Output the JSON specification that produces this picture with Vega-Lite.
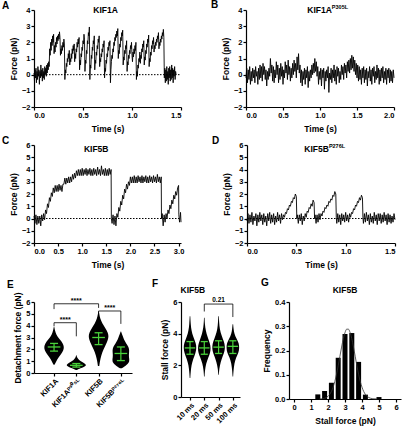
{
"$schema": "https://vega.github.io/schema/vega-lite/v6.json",
"background": "white",
"padding": {"left": 2, "top": 0, "right": 2, "bottom": 2},
"spacing": 8,
"config": {
 "font": "Liberation Sans",
 "view": {"stroke": null},
 "axis": {"grid": false, "domainColor": "black", "domainWidth": 1.2, "tickColor": "black", "tickWidth": 1.2, "tickSize": 3, "labelFontSize": 7.5, "labelFontWeight": "bold", "labelColor": "black", "labelPadding": 1, "titleFontSize": 8.5, "titleFontWeight": "bold", "titleColor": "black", "titlePadding": 3, "labelOverlap": false},
 "axisX": {"titlePadding": 6},
 "title": {"fontSize": 10, "fontWeight": "bold", "anchor": "start", "frame": "group", "color": "black", "offset": -5}
},
"datasets": {
 "a": [{"t":0.00,"f":0.1},{"t":0.005,"f":-0.4},{"t":0.01,"f":0.3},{"t":0.015,"f":-0.2},{"t":0.02,"f":0.4},{"t":0.025,"f":-0.5},{"t":0.03,"f":0.2},{"t":0.035,"f":-0.3},{"t":0.04,"f":0.5},{"t":0.045,"f":-0.1},{"t":0.05,"f":0.3},{"t":0.055,"f":-0.6},{"t":0.06,"f":0.2},{"t":0.065,"f":-0.2},{"t":0.07,"f":0.6},{"t":0.075,"f":-0.1},{"t":0.08,"f":0.3},{"t":0.085,"f":-0.4},{"t":0.09,"f":0.4},{"t":0.095,"f":-0.2},{"t":0.10,"f":0.2},{"t":0.105,"f":-0.3},{"t":0.11,"f":0.5},{"t":0.115,"f":0.0},{"t":0.12,"f":0.4},{"t":0.125,"f":-0.1},{"t":0.13,"f":0.6},{"t":0.135,"f":0.1},{"t":0.14,"f":0.7},{"t":0.145,"f":0.3},{"t":0.15,"f":0.8},
  {"t":0.155,"f":0.5},{"t":0.16,"f":1.6},{"t":0.165,"f":1.2},{"t":0.17,"f":2.0},{"t":0.175,"f":1.5},{"t":0.18,"f":2.2},{"t":0.185,"f":1.8},{"t":0.19,"f":2.4},{"t":0.195,"f":2.0},{"t":0.2,"f":2.5},
  {"t":0.205,"f":1.3},{"t":0.21,"f":1.8},{"t":0.215,"f":1.4},{"t":0.22,"f":2.0},{"t":0.225,"f":1.7},{"t":0.23,"f":2.3},{"t":0.235,"f":1.9},{"t":0.24,"f":2.4},{"t":0.245,"f":2.1},{"t":0.25,"f":2.5},{"t":0.255,"f":2.2},{"t":0.26,"f":2.65},{"t":0.265,"f":2.3},
  {"t":0.27,"f":1.2},{"t":0.275,"f":1.6},{"t":0.28,"f":1.3},{"t":0.285,"f":1.8},{"t":0.29,"f":1.5},{"t":0.295,"f":2.0},{"t":0.30,"f":1.7},{"t":0.305,"f":2.2},{"t":0.31,"f":1.9},
  {"t":0.315,"f":-0.3},{"t":0.32,"f":0.3},{"t":0.325,"f":0.1},{"t":0.33,"f":0.7},{"t":0.335,"f":0.5},{"t":0.34,"f":1.0},{"t":0.345,"f":0.8},{"t":0.35,"f":1.3},{"t":0.355,"f":1.0},{"t":0.36,"f":1.5},
  {"t":0.365,"f":0.6},{"t":0.37,"f":1.0},{"t":0.375,"f":0.8},{"t":0.38,"f":1.3},{"t":0.385,"f":1.0},{"t":0.39,"f":1.6},{"t":0.395,"f":1.3},{"t":0.40,"f":1.8},{"t":0.405,"f":1.5},{"t":0.41,"f":1.9},
  {"t":0.415,"f":0.8},{"t":0.42,"f":1.3},{"t":0.425,"f":1.0},{"t":0.43,"f":1.6},{"t":0.435,"f":1.4},{"t":0.44,"f":2.0},{"t":0.445,"f":1.7},{"t":0.45,"f":2.2},{"t":0.455,"f":1.9},{"t":0.46,"f":2.3},
  {"t":0.465,"f":0.3},{"t":0.47,"f":0.9},{"t":0.475,"f":0.6},{"t":0.48,"f":1.3},{"t":0.485,"f":1.1},{"t":0.49,"f":1.7},{"t":0.495,"f":1.5},{"t":0.50,"f":2.1},{"t":0.505,"f":1.9},{"t":0.51,"f":2.5},{"t":0.515,"f":2.2},
  {"t":0.52,"f":0.2},{"t":0.525,"f":0.9},{"t":0.53,"f":0.7},{"t":0.535,"f":1.5},{"t":0.54,"f":1.3},{"t":0.545,"f":2.1},{"t":0.55,"f":1.9},{"t":0.555,"f":2.6},{"t":0.56,"f":2.4},{"t":0.565,"f":2.95},
  {"t":0.57,"f":-0.3},{"t":0.575,"f":0.6},{"t":0.58,"f":0.4},{"t":0.585,"f":1.2},{"t":0.59,"f":1.0},{"t":0.595,"f":1.7},{"t":0.60,"f":1.5},{"t":0.605,"f":2.1},{"t":0.61,"f":1.9},{"t":0.615,"f":2.4},
  {"t":0.62,"f":0.3},{"t":0.625,"f":0.9},{"t":0.63,"f":0.7},{"t":0.635,"f":1.4},{"t":0.64,"f":1.2},{"t":0.645,"f":1.8},{"t":0.65,"f":1.6},{"t":0.655,"f":2.2},{"t":0.66,"f":2.0},{"t":0.665,"f":2.4},
  {"t":0.67,"f":0.5},{"t":0.675,"f":1.0},{"t":0.68,"f":0.8},{"t":0.685,"f":1.3},{"t":0.69,"f":1.1},{"t":0.695,"f":1.6},{"t":0.70,"f":1.4},{"t":0.705,"f":1.9},{"t":0.71,"f":1.7},{"t":0.715,"f":2.1},
  {"t":0.72,"f":-0.2},{"t":0.725,"f":0.4},{"t":0.73,"f":0.2},{"t":0.735,"f":0.9},{"t":0.74,"f":0.7},{"t":0.745,"f":1.3},{"t":0.75,"f":1.1},{"t":0.755,"f":1.7},{"t":0.76,"f":1.5},{"t":0.765,"f":2.0},{"t":0.77,"f":1.8},{"t":0.775,"f":2.1},
  {"t":0.78,"f":-0.5},{"t":0.785,"f":0.3},{"t":0.79,"f":0.8},{"t":0.795,"f":1.2},{"t":0.80,"f":1.0},{"t":0.805,"f":1.6},{"t":0.81,"f":1.4},{"t":0.815,"f":2.0},{"t":0.82,"f":1.8},{"t":0.825,"f":2.3},{"t":0.83,"f":2.1},{"t":0.835,"f":2.5},{"t":0.84,"f":2.3},{"t":0.845,"f":2.7},{"t":0.85,"f":2.4},{"t":0.855,"f":2.85},
  {"t":0.86,"f":1.0},{"t":0.865,"f":1.5},{"t":0.87,"f":1.3},{"t":0.875,"f":1.9},{"t":0.88,"f":1.7},{"t":0.885,"f":2.3},{"t":0.89,"f":2.1},{"t":0.895,"f":2.6},{"t":0.90,"f":2.4},{"t":0.905,"f":2.75},
  {"t":0.91,"f":0.6},{"t":0.915,"f":1.1},{"t":0.92,"f":0.9},{"t":0.925,"f":1.5},{"t":0.93,"f":1.3},{"t":0.935,"f":1.8},{"t":0.94,"f":1.6},{"t":0.945,"f":2.1},
  {"t":0.95,"f":0.2},{"t":0.955,"f":0.8},{"t":0.96,"f":0.6},{"t":0.965,"f":1.2},{"t":0.97,"f":1.0},{"t":0.975,"f":1.5},{"t":0.98,"f":1.3},{"t":0.985,"f":1.8},{"t":0.99,"f":1.6},{"t":0.995,"f":2.0},
  {"t":1.00,"f":1.2},{"t":1.005,"f":0.8},{"t":1.01,"f":1.4},{"t":1.015,"f":1.1},{"t":1.02,"f":1.6},{"t":1.025,"f":1.3},{"t":1.03,"f":1.8},{"t":1.035,"f":1.5},{"t":1.04,"f":2.0},
  {"t":1.045,"f":-0.3},{"t":1.05,"f":0.2},{"t":1.055,"f":-0.1},{"t":1.06,"f":0.6},{"t":1.065,"f":0.4},{"t":1.07,"f":1.0},{"t":1.075,"f":0.8},{"t":1.08,"f":1.4},
  {"t":1.085,"f":0.7},{"t":1.09,"f":1.2},{"t":1.095,"f":1.0},{"t":1.10,"f":1.6},{"t":1.105,"f":1.4},{"t":1.11,"f":1.9},{"t":1.115,"f":1.7},{"t":1.12,"f":2.1},
  {"t":1.125,"f":0.6},{"t":1.13,"f":1.1},{"t":1.135,"f":0.9},{"t":1.14,"f":1.5},{"t":1.145,"f":1.3},{"t":1.15,"f":1.9},{"t":1.155,"f":1.7},{"t":1.16,"f":2.2},{"t":1.165,"f":2.0},{"t":1.17,"f":2.45},
  {"t":1.175,"f":0.5},{"t":1.18,"f":1.0},{"t":1.185,"f":0.8},{"t":1.19,"f":1.4},{"t":1.195,"f":1.2},{"t":1.20,"f":1.8},{"t":1.205,"f":1.6},{"t":1.21,"f":2.1},{"t":1.215,"f":1.9},{"t":1.22,"f":2.3},
  {"t":1.225,"f":1.4},{"t":1.23,"f":1.8},{"t":1.235,"f":1.6},{"t":1.24,"f":2.0},{"t":1.245,"f":1.8},{"t":1.25,"f":2.2},{"t":1.255,"f":2.0},{"t":1.26,"f":2.4},{"t":1.265,"f":2.2},{"t":1.27,"f":2.6},
  {"t":1.275,"f":1.6},{"t":1.28,"f":2.0},{"t":1.285,"f":1.8},{"t":1.29,"f":2.2},{"t":1.295,"f":2.0},{"t":1.30,"f":2.4},{"t":1.305,"f":2.2},{"t":1.31,"f":2.6},{"t":1.315,"f":2.4},{"t":1.32,"f":2.8},{"t":1.325,"f":2.3},
  {"t":1.33,"f":-0.2},{"t":1.335,"f":0.4},{"t":1.34,"f":-0.5},{"t":1.345,"f":0.3},{"t":1.35,"f":-0.4},{"t":1.355,"f":0.5},{"t":1.36,"f":-0.3},{"t":1.365,"f":0.2},{"t":1.37,"f":-0.6},{"t":1.375,"f":0.4},{"t":1.38,"f":-0.2},{"t":1.385,"f":0.5},{"t":1.39,"f":-0.4},{"t":1.395,"f":0.3},{"t":1.40,"f":-0.3},{"t":1.405,"f":0.6},{"t":1.41,"f":-0.2},{"t":1.415,"f":0.4},{"t":1.42,"f":-0.5},{"t":1.425,"f":0.3},{"t":1.43,"f":-0.1},{"t":1.435,"f":0.5},{"t":1.44,"f":-0.3},{"t":1.445,"f":0.2},{"t":1.45,"f":0.0}],
 "b": [{"t":0.00,"f":-0.2},{"t":0.01,"f":0.4},{"t":0.02,"f":-0.5},{"t":0.03,"f":0.3},{"t":0.04,"f":-0.3},{"t":0.05,"f":0.5},{"t":0.06,"f":-0.6},{"t":0.07,"f":0.2},{"t":0.08,"f":-0.4},{"t":0.09,"f":0.4},{"t":0.10,"f":-0.2},{"t":0.11,"f":0.3},{"t":0.12,"f":-0.5},{"t":0.13,"f":0.5},{"t":0.14,"f":-0.1},{"t":0.15,"f":0.2},{"t":0.16,"f":-0.6},{"t":0.17,"f":0.4},{"t":0.18,"f":-0.3},{"t":0.19,"f":0.6},{"t":0.20,"f":-0.2},{"t":0.21,"f":0.5},{"t":0.22,"f":-0.4},{"t":0.23,"f":0.7},{"t":0.24,"f":0.0},{"t":0.25,"f":0.5},{"t":0.26,"f":-0.3},{"t":0.27,"f":0.3},{"t":0.28,"f":-0.7},{"t":0.29,"f":0.2},{"t":0.30,"f":-0.3},{"t":0.31,"f":0.4},{"t":0.32,"f":-0.1},{"t":0.33,"f":1.0},{"t":0.34,"f":0.1},{"t":0.35,"f":0.6},{"t":0.36,"f":-0.4},{"t":0.37,"f":0.5},{"t":0.38,"f":-0.5},{"t":0.39,"f":0.3},{"t":0.40,"f":-0.2},{"t":0.41,"f":0.8},{"t":0.42,"f":0.0},{"t":0.43,"f":0.6},{"t":0.44,"f":-0.5},{"t":0.45,"f":0.4},{"t":0.46,"f":-0.3},{"t":0.47,"f":0.7},{"t":0.48,"f":-0.1},{"t":0.49,"f":0.5},{"t":0.50,"f":-0.6},{"t":0.51,"f":0.3},{"t":0.52,"f":-0.2},{"t":0.53,"f":0.8},{"t":0.54,"f":0.1},{"t":0.55,"f":0.6},{"t":0.56,"f":-0.3},{"t":0.57,"f":0.9},{"t":0.58,"f":0.0},{"t":0.59,"f":0.5},{"t":0.60,"f":-0.4},{"t":0.61,"f":0.4},{"t":0.62,"f":-0.2},{"t":0.63,"f":0.7},{"t":0.64,"f":0.0},{"t":0.65,"f":0.9},{"t":0.66,"f":0.2},{"t":0.67,"f":0.7},{"t":0.68,"f":-0.2},{"t":0.69,"f":1.1},{"t":0.70,"f":0.3},{"t":0.71,"f":1.3},{"t":0.72,"f":0.1},{"t":0.73,"f":0.6},{"t":0.74,"f":-0.5},{"t":0.75,"f":0.3},{"t":0.76,"f":-0.7},{"t":0.77,"f":0.2},{"t":0.78,"f":-0.3},{"t":0.79,"f":0.4},{"t":0.80,"f":-0.6},{"t":0.81,"f":0.3},{"t":0.82,"f":-0.2},{"t":0.83,"f":0.5},{"t":0.84,"f":-0.8},{"t":0.85,"f":0.2},{"t":0.86,"f":-0.4},{"t":0.87,"f":0.3},{"t":0.88,"f":-0.2},{"t":0.89,"f":0.6},{"t":0.90,"f":0.0},{"t":0.91,"f":0.7},{"t":0.92,"f":0.1},{"t":0.93,"f":1.0},{"t":0.94,"f":0.2},{"t":0.95,"f":0.8},{"t":0.96,"f":-0.1},{"t":0.97,"f":0.5},{"t":0.98,"f":-0.6},{"t":0.99,"f":0.2},{"t":1.00,"f":-0.3},{"t":1.01,"f":0.4},{"t":1.02,"f":-0.7},{"t":1.03,"f":0.3},{"t":1.04,"f":-0.2},{"t":1.05,"f":0.4},{"t":1.06,"f":-0.9},{"t":1.07,"f":0.2},{"t":1.08,"f":-0.4},{"t":1.09,"f":0.3},{"t":1.10,"f":-0.2},{"t":1.11,"f":0.5},{"t":1.12,"f":-1.1},{"t":1.13,"f":0.1},{"t":1.14,"f":-0.3},{"t":1.15,"f":0.4},{"t":1.16,"f":-0.5},{"t":1.17,"f":0.3},{"t":1.18,"f":-0.2},{"t":1.19,"f":0.6},{"t":1.20,"f":-0.4},{"t":1.21,"f":0.3},{"t":1.22,"f":-0.6},{"t":1.23,"f":0.5},{"t":1.24,"f":-0.1},{"t":1.25,"f":0.4},{"t":1.26,"f":-0.5},{"t":1.27,"f":0.2},{"t":1.28,"f":-0.3},{"t":1.29,"f":0.6},{"t":1.30,"f":0.0},{"t":1.31,"f":0.5},{"t":1.32,"f":-0.3},{"t":1.33,"f":0.7},{"t":1.34,"f":0.1},{"t":1.35,"f":0.6},{"t":1.36,"f":-0.2},{"t":1.37,"f":0.8},{"t":1.38,"f":0.2},{"t":1.39,"f":0.9},{"t":1.40,"f":0.1},{"t":1.41,"f":1.0},{"t":1.42,"f":0.3},{"t":1.43,"f":1.2},{"t":1.44,"f":0.4},{"t":1.45,"f":1.1},{"t":1.46,"f":0.2},{"t":1.47,"f":0.9},{"t":1.48,"f":0.0},{"t":1.49,"f":0.7},{"t":1.50,"f":-0.2},{"t":1.51,"f":0.6},{"t":1.52,"f":-0.4},{"t":1.53,"f":0.5},{"t":1.54,"f":-0.3},{"t":1.55,"f":0.3},{"t":1.56,"f":-0.6},{"t":1.57,"f":0.4},{"t":1.58,"f":-0.2},{"t":1.59,"f":0.5},{"t":1.60,"f":-0.5},{"t":1.61,"f":0.3},{"t":1.62,"f":-0.3},{"t":1.63,"f":0.4},{"t":1.64,"f":-0.7},{"t":1.65,"f":0.2},{"t":1.66,"f":-0.2},{"t":1.67,"f":0.5},{"t":1.68,"f":-0.4},{"t":1.69,"f":0.3},{"t":1.70,"f":-0.6},{"t":1.71,"f":0.4},{"t":1.72,"f":-0.1},{"t":1.73,"f":0.5},{"t":1.74,"f":-0.5},{"t":1.75,"f":0.2},{"t":1.76,"f":-0.3},{"t":1.77,"f":0.6},{"t":1.78,"f":-0.2},{"t":1.79,"f":0.4},{"t":1.80,"f":-0.6},{"t":1.81,"f":0.3},{"t":1.82,"f":-0.4},{"t":1.83,"f":0.4},{"t":1.84,"f":-0.2},{"t":1.85,"f":0.5},{"t":1.86,"f":-0.5},{"t":1.87,"f":0.2},{"t":1.88,"f":-0.3},{"t":1.89,"f":0.4},{"t":1.90,"f":-0.6},{"t":1.91,"f":0.3},{"t":1.92,"f":-0.2},{"t":1.93,"f":0.4},{"t":1.94,"f":-0.5},{"t":1.95,"f":0.3},{"t":1.96,"f":-0.4},{"t":1.97,"f":0.2},{"t":1.98,"f":-0.5},{"t":1.99,"f":0.3},{"t":2.00,"f":-0.2}],
 "c": [{"t":0.00,"f":0.2},{"t":0.02,"f":-0.4},{"t":0.04,"f":0.3},{"t":0.06,"f":-0.5},{"t":0.08,"f":0.2},{"t":0.10,"f":-0.4},{"t":0.12,"f":0.2},{"t":0.14,"f":-0.6},{"t":0.16,"f":0.3},{"t":0.18,"f":-0.2},{"t":0.20,"f":0.4},{"t":0.22,"f":-0.1},{"t":0.24,"f":0.7},{"t":0.26,"f":0.4},{"t":0.28,"f":1.2},{"t":0.30,"f":0.9},{"t":0.32,"f":1.7},{"t":0.34,"f":1.4},{"t":0.36,"f":2.1},{"t":0.38,"f":1.8},{"t":0.40,"f":2.5},{"t":0.42,"f":2.1},{"t":0.44,"f":2.7},{"t":0.46,"f":2.2},{"t":0.48,"f":2.7},{"t":0.50,"f":2.2},{"t":0.52,"f":2.8},{"t":0.54,"f":2.3},{"t":0.56,"f":2.7},{"t":0.58,"f":2.2},{"t":0.60,"f":2.8},{"t":0.62,"f":2.8},{"t":0.64,"f":3.3},{"t":0.66,"f":2.8},{"t":0.68,"f":3.3},{"t":0.70,"f":2.9},{"t":0.72,"f":3.4},{"t":0.74,"f":2.9},{"t":0.76,"f":3.4},{"t":0.78,"f":3.0},{"t":0.80,"f":3.6},{"t":0.82,"f":3.2},{"t":0.84,"f":3.7},{"t":0.86,"f":3.3},{"t":0.88,"f":3.9},{"t":0.90,"f":3.5},{"t":0.92,"f":4.0},{"t":0.94,"f":3.5},{"t":0.96,"f":4.0},{"t":0.98,"f":3.5},{"t":1.00,"f":4.1},{"t":1.02,"f":3.5},{"t":1.04,"f":4.0},{"t":1.06,"f":3.6},{"t":1.08,"f":4.1},{"t":1.10,"f":3.5},{"t":1.12,"f":4.0},{"t":1.14,"f":3.6},{"t":1.16,"f":4.1},{"t":1.18,"f":3.5},{"t":1.20,"f":4.0},{"t":1.22,"f":3.5},{"t":1.24,"f":4.1},{"t":1.26,"f":3.6},{"t":1.28,"f":4.0},{"t":1.30,"f":3.5},{"t":1.32,"f":4.2},{"t":1.34,"f":3.6},{"t":1.36,"f":4.0},{"t":1.38,"f":3.5},{"t":1.40,"f":4.3},{"t":1.42,"f":3.6},{"t":1.44,"f":4.0},{"t":1.46,"f":3.5},{"t":1.48,"f":4.1},{"t":1.50,"f":3.5},{"t":1.52,"f":4.0},{"t":1.54,"f":3.5},{"t":1.56,"f":4.1},{"t":1.58,"f":3.6},{"t":1.60,"f":4.0},{"t":1.605,"f":0.0},{"t":1.62,"f":-0.4},{"t":1.64,"f":0.3},{"t":1.66,"f":-0.5},{"t":1.68,"f":0.2},{"t":1.70,"f":-0.6},{"t":1.72,"f":0.4},{"t":1.74,"f":0.1},{"t":1.76,"f":0.9},{"t":1.78,"f":0.6},{"t":1.80,"f":1.4},{"t":1.82,"f":1.1},{"t":1.84,"f":1.9},{"t":1.86,"f":1.6},{"t":1.88,"f":2.4},{"t":1.90,"f":2.1},{"t":1.92,"f":2.8},{"t":1.94,"f":2.4},{"t":1.96,"f":3.0},{"t":1.98,"f":2.7},{"t":2.00,"f":3.4},{"t":2.02,"f":2.9},{"t":2.04,"f":3.4},{"t":2.06,"f":2.9},{"t":2.08,"f":3.5},{"t":2.10,"f":2.9},{"t":2.12,"f":3.4},{"t":2.14,"f":2.9},{"t":2.16,"f":3.5},{"t":2.18,"f":3.0},{"t":2.20,"f":3.4},{"t":2.22,"f":2.9},{"t":2.24,"f":3.5},{"t":2.26,"f":2.9},{"t":2.28,"f":3.4},{"t":2.30,"f":3.0},{"t":2.32,"f":3.5},{"t":2.34,"f":2.9},{"t":2.36,"f":3.4},{"t":2.38,"f":2.9},{"t":2.40,"f":3.5},{"t":2.42,"f":3.0},{"t":2.44,"f":3.4},{"t":2.46,"f":2.9},{"t":2.48,"f":3.5},{"t":2.50,"f":3.0},{"t":2.52,"f":3.4},{"t":2.54,"f":2.9},{"t":2.56,"f":3.6},{"t":2.58,"f":3.0},{"t":2.60,"f":3.4},{"t":2.62,"f":2.9},{"t":2.64,"f":3.4},{"t":2.645,"f":0.0},{"t":2.66,"f":0.4},{"t":2.68,"f":-0.6},{"t":2.70,"f":0.3},{"t":2.72,"f":-0.3},{"t":2.74,"f":0.4},{"t":2.76,"f":0.0},{"t":2.78,"f":0.7},{"t":2.80,"f":0.4},{"t":2.82,"f":1.1},{"t":2.84,"f":0.8},{"t":2.86,"f":1.5},{"t":2.88,"f":1.2},{"t":2.90,"f":1.9},{"t":2.92,"f":1.6},{"t":2.94,"f":2.2},{"t":2.96,"f":1.9},{"t":2.98,"f":2.5},{"t":3.00,"f":2.7},{"t":3.005,"f":0.3},{"t":3.02,"f":-0.3},{"t":3.04,"f":0.5},{"t":3.05,"f":-0.3}],
 "d": [{"t":0.00,"f":-0.2},{"t":0.01,"f":0.4},{"t":0.02,"f":-0.4},{"t":0.03,"f":0.3},{"t":0.04,"f":-0.3},{"t":0.05,"f":0.5},{"t":0.06,"f":-0.5},{"t":0.07,"f":0.2},{"t":0.08,"f":-0.2},{"t":0.09,"f":0.4},{"t":0.10,"f":-0.6},{"t":0.11,"f":0.3},{"t":0.12,"f":-0.3},{"t":0.13,"f":0.5},{"t":0.14,"f":-0.2},{"t":0.15,"f":0.3},{"t":0.16,"f":-0.5},{"t":0.17,"f":0.4},{"t":0.18,"f":-0.3},{"t":0.19,"f":0.2},{"t":0.20,"f":-0.6},{"t":0.21,"f":0.4},{"t":0.22,"f":-0.2},{"t":0.23,"f":0.5},{"t":0.24,"f":-0.4},{"t":0.25,"f":0.3},{"t":0.26,"f":-0.3},{"t":0.27,"f":0.4},{"t":0.28,"f":-0.5},{"t":0.29,"f":0.2},{"t":0.30,"f":-0.3},{"t":0.31,"f":0.5},{"t":0.32,"f":-0.2},{"t":0.33,"f":0.3},{"t":0.34,"f":-0.4},{"t":0.35,"f":0.4},{"t":0.36,"f":-0.1},{"t":0.37,"f":0.3},{"t":0.38,"f":0.1},{"t":0.39,"f":0.5},{"t":0.40,"f":0.4},{"t":0.41,"f":0.8},{"t":0.42,"f":0.7},{"t":0.43,"f":1.1},{"t":0.44,"f":1.0},{"t":0.45,"f":1.4},{"t":0.46,"f":1.3},{"t":0.47,"f":1.7},{"t":0.48,"f":1.6},{"t":0.49,"f":2.0},{"t":0.50,"f":1.8},{"t":0.505,"f":0.0},{"t":0.51,"f":0.3},{"t":0.52,"f":-0.4},{"t":0.53,"f":0.3},{"t":0.54,"f":-0.2},{"t":0.55,"f":0.4},{"t":0.56,"f":-0.5},{"t":0.57,"f":0.2},{"t":0.58,"f":-0.2},{"t":0.59,"f":0.4},{"t":0.60,"f":0.1},{"t":0.61,"f":0.6},{"t":0.62,"f":0.5},{"t":0.63,"f":0.9},{"t":0.64,"f":0.8},{"t":0.65,"f":1.2},{"t":0.66,"f":1.0},{"t":0.67,"f":1.5},{"t":0.68,"f":1.3},{"t":0.685,"f":0.0},{"t":0.69,"f":0.3},{"t":0.70,"f":-0.4},{"t":0.71,"f":0.3},{"t":0.72,"f":-0.3},{"t":0.73,"f":0.4},{"t":0.74,"f":-0.1},{"t":0.75,"f":0.4},{"t":0.76,"f":0.2},{"t":0.77,"f":0.6},{"t":0.78,"f":0.5},{"t":0.79,"f":0.9},{"t":0.80,"f":0.8},{"t":0.81,"f":1.1},{"t":0.82,"f":1.0},{"t":0.83,"f":1.4},{"t":0.84,"f":1.3},{"t":0.85,"f":1.6},{"t":0.86,"f":1.5},{"t":0.87,"f":1.9},{"t":0.88,"f":1.8},{"t":0.89,"f":2.2},{"t":0.90,"f":2.0},{"t":0.905,"f":0.1},{"t":0.91,"f":-0.4},{"t":0.92,"f":0.4},{"t":0.93,"f":-0.3},{"t":0.94,"f":0.3},{"t":0.95,"f":-0.5},{"t":0.96,"f":0.4},{"t":0.97,"f":-0.2},{"t":0.98,"f":0.3},{"t":0.99,"f":-0.3},{"t":1.00,"f":0.5},{"t":1.01,"f":-0.2},{"t":1.02,"f":0.3},{"t":1.03,"f":-0.3},{"t":1.04,"f":0.4},{"t":1.05,"f":0.1},{"t":1.06,"f":0.5},{"t":1.07,"f":0.4},{"t":1.08,"f":0.8},{"t":1.09,"f":0.7},{"t":1.10,"f":1.1},{"t":1.11,"f":1.0},{"t":1.12,"f":1.4},{"t":1.13,"f":1.3},{"t":1.14,"f":1.7},{"t":1.15,"f":1.5},{"t":1.16,"f":1.9},{"t":1.17,"f":1.7},{"t":1.175,"f":0.1},{"t":1.18,"f":-0.4},{"t":1.19,"f":0.4},{"t":1.20,"f":-0.3},{"t":1.21,"f":0.5},{"t":1.22,"f":-0.2},{"t":1.23,"f":0.3},{"t":1.24,"f":-0.5},{"t":1.25,"f":0.4},{"t":1.26,"f":-0.3},{"t":1.27,"f":0.2},{"t":1.28,"f":-0.4},{"t":1.29,"f":0.5},{"t":1.30,"f":-0.2},{"t":1.31,"f":0.3},{"t":1.32,"f":-0.5},{"t":1.33,"f":0.4},{"t":1.34,"f":-0.2},{"t":1.35,"f":0.4},{"t":1.36,"f":-0.4},{"t":1.37,"f":0.3},{"t":1.38,"f":-0.3},{"t":1.39,"f":0.5},{"t":1.40,"f":-0.2},{"t":1.41,"f":0.3},{"t":1.42,"f":-0.5},{"t":1.43,"f":0.4},{"t":1.44,"f":-0.3},{"t":1.45,"f":0.3},{"t":1.46,"f":-0.4},{"t":1.47,"f":0.2},{"t":1.48,"f":-0.3},{"t":1.49,"f":0.4},{"t":1.50,"f":-0.1}],
 "ev": [{"g":1,"y":0.7,"x":0.98,"x2":1.02},{"g":1,"y":1.0,"x":0.9,"x2":1.1},{"g":1,"y":1.3,"x":0.8,"x2":1.2},{"g":1,"y":1.6,"x":0.68,"x2":1.32},{"g":1,"y":1.9,"x":0.58,"x2":1.42},{"g":1,"y":2.2,"x":0.55,"x2":1.45},{"g":1,"y":2.5,"x":0.6,"x2":1.4},{"g":1,"y":2.8,"x":0.73,"x2":1.27},{"g":1,"y":3.1,"x":0.86,"x2":1.14},{"g":1,"y":3.4,"x":0.93,"x2":1.07},{"g":1,"y":3.7,"x":0.97,"x2":1.03},{"g":1,"y":3.9,"x":0.99,"x2":1.01},
  {"g":2,"y":0.25,"x":1.98,"x2":2.02},{"g":2,"y":0.4,"x":1.82,"x2":2.18},{"g":2,"y":0.55,"x":1.6,"x2":2.4},{"g":2,"y":0.7,"x":1.55,"x2":2.45},{"g":2,"y":0.85,"x":1.65,"x2":2.35},{"g":2,"y":1.0,"x":1.82,"x2":2.18},{"g":2,"y":1.2,"x":1.93,"x2":2.07},{"g":2,"y":1.4,"x":1.98,"x2":2.02},{"g":2,"y":1.5,"x":1.99,"x2":2.01},
  {"g":3,"y":0.6,"x":2.97,"x2":3.03},{"g":3,"y":1.0,"x":2.94,"x2":3.06},{"g":3,"y":1.5,"x":2.88,"x2":3.12},{"g":3,"y":2.0,"x":2.78,"x2":3.22},{"g":3,"y":2.4,"x":2.67,"x2":3.33},{"g":3,"y":2.8,"x":2.58,"x2":3.42},{"g":3,"y":3.1,"x":2.55,"x2":3.45},{"g":3,"y":3.4,"x":2.58,"x2":3.42},{"g":3,"y":3.8,"x":2.7,"x2":3.3},{"g":3,"y":4.2,"x":2.84,"x2":3.16},{"g":3,"y":4.6,"x":2.93,"x2":3.07},{"g":3,"y":5.0,"x":2.97,"x2":3.03},{"g":3,"y":5.2,"x":2.99,"x2":3.01},
  {"g":4,"y":0.4,"x":3.96,"x2":4.04},{"g":4,"y":0.7,"x":3.72,"x2":4.28},{"g":4,"y":1.0,"x":3.6,"x2":4.4},{"g":4,"y":1.3,"x":3.64,"x2":4.36},{"g":4,"y":1.6,"x":3.64,"x2":4.36},{"g":4,"y":1.9,"x":3.62,"x2":4.38},{"g":4,"y":2.2,"x":3.65,"x2":4.35},{"g":4,"y":2.5,"x":3.76,"x2":4.24},{"g":4,"y":2.8,"x":3.86,"x2":4.14},{"g":4,"y":3.1,"x":3.91,"x2":4.09},{"g":4,"y":3.4,"x":3.97,"x2":4.03},{"g":4,"y":3.5,"x":3.99,"x2":4.01}],
 "er": [{"x":1,"y":1.85,"y2":2.5},{"x":2,"y":0.5,"y2":0.8},{"x":3,"y":2.4,"y2":3.4},{"x":4,"y":1.05,"y2":2.2}],
 "ec": [{"x":1,"y":2.2,"k":"m"},{"x":2,"y":0.65,"k":"m"},{"x":3,"y":3.0,"k":"m"},{"x":4,"y":1.65,"k":"m"},{"x":1,"y":1.85,"k":"e"},{"x":1,"y":2.5,"k":"e"},{"x":2,"y":0.5,"k":"e"},{"x":2,"y":0.8,"k":"e"},{"x":3,"y":2.4,"k":"e"},{"x":3,"y":3.4,"k":"e"},{"x":4,"y":1.05,"k":"e"},{"x":4,"y":2.2,"k":"e"}],
 "eb": [{"x":1,"y":5.85,"x2":3,"y2":5.85},{"x":1,"y":5.4,"x2":1,"y2":5.85},{"x":3,"y":5.5,"x2":3,"y2":5.85},{"x":1,"y":4.25,"x2":2,"y2":4.25},{"x":1,"y":3.95,"x2":1,"y2":4.25},{"x":2,"y":3.1,"x2":2,"y2":4.25},{"x":3,"y":5.24,"x2":4,"y2":5.24},{"x":3,"y":4.95,"x2":3,"y2":5.24},{"x":4,"y":4.15,"x2":4,"y2":5.24}],
 "es": [{"x":2,"y":6.1,"s":"****"},{"x":1.5,"y":4.5,"s":"****"},{"x":3.5,"y":5.5,"s":"****"}],
 "fv": [{"g":1,"y":1.2,"x":0.98,"x2":1.02},{"g":1,"y":1.6,"x":0.95,"x2":1.05},{"g":1,"y":2.0,"x":0.9,"x2":1.1},{"g":1,"y":2.4,"x":0.78,"x2":1.22},{"g":1,"y":2.8,"x":0.6,"x2":1.4},{"g":1,"y":3.1,"x":0.55,"x2":1.45},{"g":1,"y":3.4,"x":0.58,"x2":1.42},{"g":1,"y":3.8,"x":0.78,"x2":1.22},{"g":1,"y":4.2,"x":0.9,"x2":1.1},{"g":1,"y":4.6,"x":0.95,"x2":1.05},{"g":1,"y":5.1,"x":0.98,"x2":1.02},
  {"g":2,"y":1.3,"x":1.98,"x2":2.02},{"g":2,"y":1.7,"x":1.95,"x2":2.05},{"g":2,"y":2.1,"x":1.88,"x2":2.12},{"g":2,"y":2.5,"x":1.72,"x2":2.28},{"g":2,"y":2.8,"x":1.58,"x2":2.42},{"g":2,"y":3.1,"x":1.55,"x2":2.45},{"g":2,"y":3.4,"x":1.6,"x2":2.4},{"g":2,"y":3.8,"x":1.78,"x2":2.22},{"g":2,"y":4.2,"x":1.9,"x2":2.1},{"g":2,"y":4.6,"x":1.96,"x2":2.04},{"g":2,"y":5.0,"x":1.98,"x2":2.02},
  {"g":3,"y":1.4,"x":2.98,"x2":3.02},{"g":3,"y":1.8,"x":2.95,"x2":3.05},{"g":3,"y":2.2,"x":2.86,"x2":3.14},{"g":3,"y":2.6,"x":2.7,"x2":3.3},{"g":3,"y":2.9,"x":2.57,"x2":3.43},{"g":3,"y":3.2,"x":2.55,"x2":3.45},{"g":3,"y":3.5,"x":2.62,"x2":3.38},{"g":3,"y":3.9,"x":2.8,"x2":3.2},{"g":3,"y":4.3,"x":2.92,"x2":3.08},{"g":3,"y":4.7,"x":2.96,"x2":3.04},{"g":3,"y":5.1,"x":2.98,"x2":3.02},
  {"g":4,"y":1.3,"x":3.98,"x2":4.02},{"g":4,"y":1.7,"x":3.95,"x2":4.05},{"g":4,"y":2.1,"x":3.9,"x2":4.1},{"g":4,"y":2.5,"x":3.78,"x2":4.22},{"g":4,"y":2.8,"x":3.6,"x2":4.4},{"g":4,"y":3.1,"x":3.55,"x2":4.45},{"g":4,"y":3.4,"x":3.57,"x2":4.43},{"g":4,"y":3.7,"x":3.75,"x2":4.25},{"g":4,"y":4.0,"x":3.9,"x2":4.1},{"g":4,"y":4.3,"x":3.95,"x2":4.05},{"g":4,"y":4.6,"x":3.98,"x2":4.02}],
 "fr": [{"x":1,"y":2.7,"y2":3.5},{"x":2,"y":2.7,"y2":3.5},{"x":3,"y":2.75,"y2":3.55},{"x":4,"y":2.75,"y2":3.55}],
 "fc": [{"x":1,"y":3.1,"k":"m"},{"x":2,"y":3.1,"k":"m"},{"x":3,"y":3.15,"k":"m"},{"x":4,"y":3.2,"k":"m"},{"x":1,"y":2.7,"k":"e"},{"x":1,"y":3.5,"k":"e"},{"x":2,"y":2.7,"k":"e"},{"x":2,"y":3.5,"k":"e"},{"x":3,"y":2.75,"k":"e"},{"x":3,"y":3.55,"k":"e"},{"x":4,"y":2.75,"k":"e"},{"x":4,"y":3.55,"k":"e"}],
 "fb": [{"x":2,"y":5.87,"x2":4,"y2":5.87},{"x":2,"y":5.4,"x2":2,"y2":5.87},{"x":4,"y":5.05,"x2":4,"y2":5.87}],
 "gh": [{"x":1.4,"y":0.019},{"x":1.8,"y":0.033},{"x":2.2,"y":0.067},{"x":2.6,"y":0.17},{"x":3.0,"y":0.268},{"x":3.4,"y":0.272},{"x":3.8,"y":0.153},{"x":4.2,"y":0.018},{"x":5.0,"y":0.008}],
 "gc": [{"x":1.5,"y":0.0003},{"x":1.6,"y":0.0008},{"x":1.8,"y":0.0032},{"x":2.0,"y":0.011},{"x":2.1,"y":0.019},{"x":2.2,"y":0.031},{"x":2.3,"y":0.0487},{"x":2.4,"y":0.072},{"x":2.5,"y":0.102},{"x":2.6,"y":0.137},{"x":2.7,"y":0.176},{"x":2.8,"y":0.214},{"x":2.9,"y":0.249},{"x":3.0,"y":0.274},{"x":3.1,"y":0.288},{"x":3.2,"y":0.288},{"x":3.3,"y":0.274},{"x":3.4,"y":0.249},{"x":3.5,"y":0.214},{"x":3.6,"y":0.176},{"x":3.7,"y":0.137},{"x":3.8,"y":0.102},{"x":3.9,"y":0.072},{"x":4.0,"y":0.0487},{"x":4.1,"y":0.031},{"x":4.2,"y":0.019},{"x":4.3,"y":0.011},{"x":4.5,"y":0.0032},{"x":4.7,"y":0.0008},{"x":4.9,"y":0.0001}]
},
"vconcat": [
 {"spacing": 3, "vconcat": [
 {"spacing": 28, "hconcat": [
  {"width": 147, "height": 97, "title": {"text": "A", "dx": -32},
   "encoding": {"x": {"field": "t", "type": "quantitative", "scale": {"domain": [0, 1.5], "nice": false}, "axis": {"values": [0, 0.5, 1, 1.5], "format": ".1f", "title": "Time (s)"}},
                "y": {"field": "f", "type": "quantitative", "scale": {"domain": [-2, 4], "nice": false}, "axis": {"values": [-2, -1, 0, 1, 2, 3, 4], "title": "Force (pN)"}}},
   "layer": [
    {"data": {"name": "a"}, "mark": {"type": "line", "color": "black", "strokeWidth": 0.9}, "encoding": {}},
    {"data": {"values": [{"t": 0, "f": 0}, {"t": 1.5, "f": 0}]}, "mark": {"type": "line", "strokeDash": [1.5, 1.5], "color": "black", "strokeWidth": 1}, "encoding": {}},
    {"data": {"values": [{"t": 0.73, "f": 4, "s": "KIF1A"}]}, "mark": {"type": "text", "fontWeight": "bold", "fontSize": 8.5}, "encoding": {"text": {"field": "s"}}}
   ]},
  {"width": 148, "height": 97, "title": {"text": "B", "dx": -35},
   "encoding": {"x": {"field": "t", "type": "quantitative", "scale": {"domain": [0, 2], "nice": false}, "axis": {"values": [0, 0.5, 1, 1.5, 2], "format": ".1f", "title": "Time (s)"}},
                "y": {"field": "f", "type": "quantitative", "scale": {"domain": [-2, 4], "nice": false}, "axis": {"values": [-2, -1, 0, 1, 2, 3, 4], "title": "Force (pN)"}}},
   "layer": [
    {"data": {"name": "b"}, "mark": {"type": "line", "color": "black", "strokeWidth": 0.9}, "encoding": {}},
    {"data": {"values": [{"t": 1.16, "f": 4, "s": "KIF1A"}]}, "mark": {"type": "text", "fontWeight": "bold", "fontSize": 8.5, "align": "right"}, "encoding": {"text": {"field": "s"}}},
    {"data": {"values": [{"t": 1.16, "f": 4, "s": "P305L"}]}, "mark": {"type": "text", "fontWeight": "bold", "fontSize": 5.5, "align": "left", "dy": -3}, "encoding": {"text": {"field": "s"}}}
   ]}
 ]},
 {"spacing": 28, "hconcat": [
  {"width": 147, "height": 98, "title": {"text": "C", "dx": -32},
   "encoding": {"x": {"field": "t", "type": "quantitative", "scale": {"domain": [0, 3.05], "nice": false}, "axis": {"values": [0, 0.5, 1, 1.5, 2, 2.5, 3], "format": ".1f", "title": "Time (s)"}},
                "y": {"field": "f", "type": "quantitative", "scale": {"domain": [-2, 6], "nice": false}, "axis": {"values": [-2, -1, 0, 1, 2, 3, 4, 5, 6], "title": "Force (pN)"}}},
   "layer": [
    {"data": {"name": "c"}, "mark": {"type": "line", "color": "black", "strokeWidth": 0.9}, "encoding": {}},
    {"data": {"values": [{"t": 0, "f": 0}, {"t": 3.05, "f": 0}]}, "mark": {"type": "line", "strokeDash": [1.5, 1.5], "color": "black", "strokeWidth": 1}, "encoding": {}},
    {"data": {"values": [{"t": 1.29, "f": 5.67, "s": "KIF5B"}]}, "mark": {"type": "text", "fontWeight": "bold", "fontSize": 8.5}, "encoding": {"text": {"field": "s"}}}
   ]},
  {"width": 148, "height": 98, "title": {"text": "D", "dx": -35},
   "encoding": {"x": {"field": "t", "type": "quantitative", "scale": {"domain": [0, 1.5], "nice": false}, "axis": {"values": [0, 0.5, 1, 1.5], "format": ".1f", "title": "Time (s)"}},
                "y": {"field": "f", "type": "quantitative", "scale": {"domain": [-2, 6], "nice": false}, "axis": {"values": [-2, -1, 0, 1, 2, 3, 4, 5, 6], "title": "Force (pN)"}}},
   "layer": [
    {"data": {"name": "d"}, "mark": {"type": "line", "color": "black", "strokeWidth": 0.9}, "encoding": {}},
    {"data": {"values": [{"t": 0, "f": 0}, {"t": 1.5, "f": 0}]}, "mark": {"type": "line", "strokeDash": [1.5, 1.5], "color": "black", "strokeWidth": 1}, "encoding": {}},
    {"data": {"values": [{"t": 0.83, "f": 5.67, "s": "KIF5B"}]}, "mark": {"type": "text", "fontWeight": "bold", "fontSize": 8.5, "align": "right"}, "encoding": {"text": {"field": "s"}}},
    {"data": {"values": [{"t": 0.83, "f": 5.67, "s": "P276L"}]}, "mark": {"type": "text", "fontWeight": "bold", "fontSize": 5.5, "align": "left", "dy": -3}, "encoding": {"text": {"field": "s"}}}
   ]}
 ]}
 ]},
 {"spacing": 20, "hconcat": [
  {"width": 98, "height": 71, "title": {"text": "E", "dx": -27, "offset": 2},
   "encoding": {"x": {"field": "x", "type": "quantitative", "scale": {"domain": [0.1, 4.5], "nice": false}, "axis": {"values": [1, 2, 3, 4], "labelAngle": -45, "title": null, "labelExpr": "datum.value == 1 ? 'KIF1A' : datum.value == 2 ? 'KIF1Aᴾ³⁰⁵ᴸ' : datum.value == 3 ? 'KIF5B' : 'KIF5Bᴾ²⁷⁶ᴸ'"}},
                "y": {"field": "y", "type": "quantitative", "scale": {"domain": [0, 6], "nice": false}, "axis": {"values": [0, 1, 2, 3, 4, 5, 6], "title": "Detachment force (pN)"}}},
   "layer": [
    {"data": {"name": "ev"}, "mark": {"type": "area", "orient": "horizontal", "color": "black", "interpolate": "basis"}, "encoding": {"x2": {"field": "x2"}, "detail": {"field": "g"}}},
    {"data": {"name": "er"}, "mark": {"type": "rule", "color": "#49d13a", "strokeWidth": 1.2}, "encoding": {"y2": {"field": "y2"}}},
    {"data": {"name": "ec"}, "mark": {"type": "point", "shape": "M-1,0L1,0", "color": "#49d13a", "strokeWidth": 1.3, "filled": false, "opacity": 1},
     "encoding": {"size": {"condition": {"test": "datum.k == 'm'", "value": 160}, "value": 64}}},
    {"data": {"name": "eb"}, "mark": {"type": "rule", "color": "black", "strokeWidth": 0.8}, "encoding": {"x2": {"field": "x2"}, "y2": {"field": "y2"}}},
    {"data": {"name": "es"}, "mark": {"type": "text", "fontWeight": "bold", "fontSize": 7, "baseline": "middle"}, "encoding": {"text": {"field": "s"}}}
   ]},
  {"width": 59, "height": 95, "title": {"text": "F", "dx": -29, "offset": -3},
   "encoding": {"x": {"field": "x", "type": "quantitative", "scale": {"domain": [0.37, 4.5], "nice": false}, "axis": {"values": [1, 2, 3, 4], "labelAngle": -45, "title": null, "labelExpr": "datum.value == 1 ? '10 ms' : datum.value == 2 ? '20 ms' : datum.value == 3 ? '50 ms' : '100 ms'"}},
                "y": {"field": "y", "type": "quantitative", "scale": {"domain": [0, 6], "nice": false}, "axis": {"values": [0, 2, 4, 6], "title": "Stall force (pN)"}}},
   "layer": [
    {"data": {"name": "fv"}, "mark": {"type": "area", "orient": "horizontal", "color": "black", "interpolate": "basis"}, "encoding": {"x2": {"field": "x2"}, "detail": {"field": "g"}}},
    {"data": {"name": "fr"}, "mark": {"type": "rule", "color": "#49d13a", "strokeWidth": 1.2}, "encoding": {"y2": {"field": "y2"}}},
    {"data": {"name": "fc"}, "mark": {"type": "point", "shape": "M-1,0L1,0", "color": "#49d13a", "strokeWidth": 1.3, "filled": false, "opacity": 1},
     "encoding": {"size": {"condition": {"test": "datum.k == 'm'", "value": 110}, "value": 50}}},
    {"data": {"name": "fb"}, "mark": {"type": "rule", "color": "black", "strokeWidth": 0.8}, "encoding": {"x2": {"field": "x2"}, "y2": {"field": "y2"}}},
    {"data": {"values": [{"x": 3, "y": 6.15, "s": "0.21"}]}, "mark": {"type": "text", "fontWeight": "bold", "fontSize": 6.5, "baseline": "middle"}, "encoding": {"text": {"field": "s"}}},
    {"data": {"values": [{"x": 1.2, "y": 6.75, "s": "KIF5B"}]}, "mark": {"type": "text", "fontWeight": "bold", "fontSize": 8.5, "baseline": "middle"}, "encoding": {"text": {"field": "s"}}}
   ]},
  {"width": 112, "height": 97, "title": {"text": "G", "dx": -28, "offset": -2},
   "encoding": {"x": {"field": "x", "type": "quantitative", "scale": {"domain": [0, 6], "nice": false}, "axis": {"values": [0, 1, 2, 3, 4, 5, 6], "title": "Stall force (pN)"}},
                "y": {"field": "y", "type": "quantitative", "scale": {"domain": [0, 0.4], "nice": false}, "axis": {"values": [0, 0.1, 0.2, 0.3, 0.4], "format": ".1f", "title": "Frequency"}}},
   "layer": [
    {"data": {"name": "gh"}, "mark": {"type": "bar", "color": "black", "width": 5}, "encoding": {}},
    {"data": {"name": "gc"}, "mark": {"type": "line", "color": "#333", "strokeWidth": 0.8, "interpolate": "monotone"}, "encoding": {}},
    {"data": {"values": [{"x": 3, "y": 0.45, "s": "KIF5B"}]}, "mark": {"type": "text", "fontWeight": "bold", "fontSize": 8.5, "baseline": "middle"}, "encoding": {"text": {"field": "s"}}}
   ]}
 ]}
]
}
